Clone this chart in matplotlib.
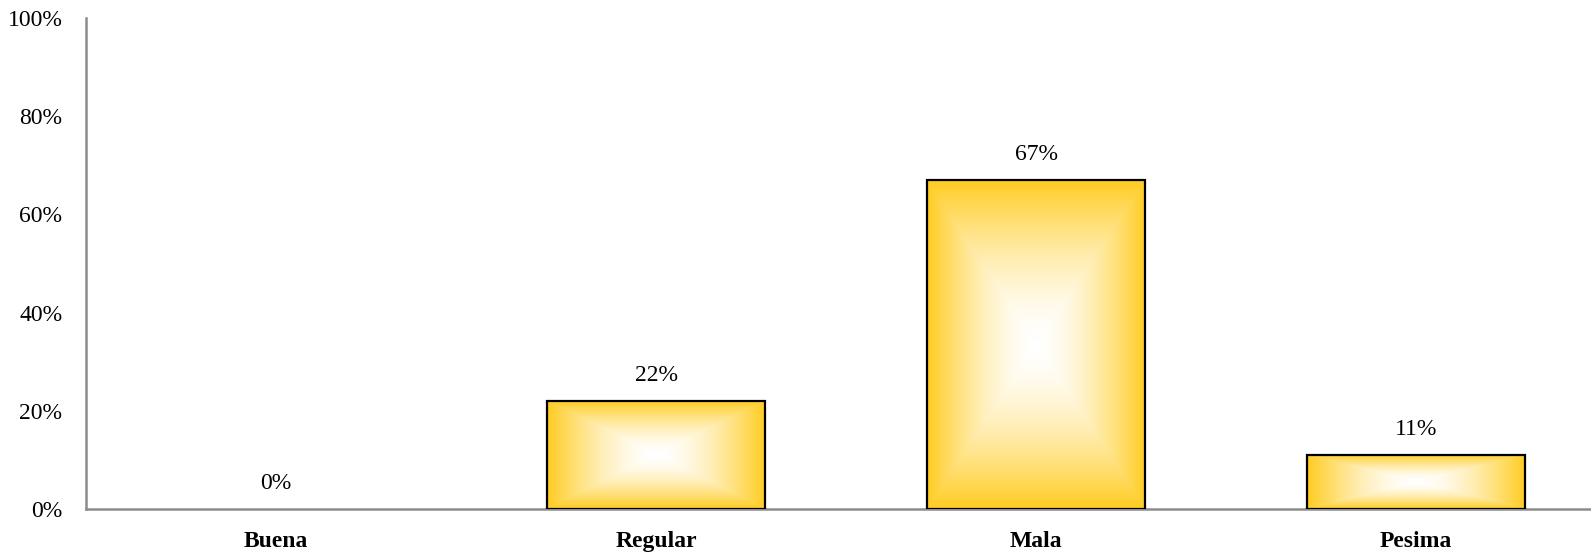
import matplotlib.pyplot as plt
import numpy as np
from matplotlib.colors import LinearSegmentedColormap

categories = ['Buena', 'Regular', 'Mala', 'Pesima']
values = [0, 22, 67, 11]
value_labels = ['0%', '22%', '67%', '11%']
ytick_values = [0, 20, 40, 60, 80, 100]
ytick_labels = ['0%', '20%', '40%', '60%', '80%', '100%']

plt.rcParams['font.family'] = ['Liberation Serif', 'DejaVu Serif']

fig = plt.figure(figsize=(15.91, 5.56), dpi=100)
# axes runs a bit past the right edge, like the original
ax = fig.add_axes([86 / 1591, 47 / 556, 1520 / 1591, 491 / 556])

gold = (1.0, 0.80, 0.13)
cmap = LinearSegmentedColormap.from_list('gold_center', ['white', gold])

x = np.arange(len(categories))
bars = ax.bar(x, values, width=0.575, facecolor='none', edgecolor='black',
              linewidth=1.6, zorder=3)

# rectangular "from centre" gradient inside each bar
n = 300
u = np.linspace(-1, 1, n)
uu, vv = np.meshgrid(u, u)
grad = np.maximum(np.abs(uu), np.abs(vv)) ** 1.6
for b in bars:
    if b.get_height() <= 0:
        b.set_edgecolor('none')
        continue
    x0, y0 = b.get_x(), b.get_y()
    w, h = b.get_width(), b.get_height()
    im = ax.imshow(grad, cmap=cmap, extent=[x0, x0 + w, y0, y0 + h],
                   aspect='auto', origin='lower', zorder=2, vmin=0, vmax=1,
                   interpolation='bilinear')
    im.set_clip_path(b)

for b, lab in zip(bars, value_labels):
    ax.annotate(lab, (b.get_x() + b.get_width() / 2, b.get_height()),
                xytext=(0, 11), textcoords='offset points',
                ha='center', va='bottom', fontsize=17)

ax.set_xlim(-0.5, len(categories) - 0.5)
ax.set_ylim(0, 100)
ax.set_xticks(x)
ax.set_xticklabels(categories, fontsize=17, fontweight='bold')
ax.set_yticks(ytick_values)
ax.set_yticklabels(ytick_labels, fontsize=17)
ax.tick_params(axis='both', length=0)
ax.tick_params(axis='x', pad=16)
ax.tick_params(axis='y', pad=17)

for s in ['top', 'right']:
    ax.spines[s].set_visible(False)
for s in ['left', 'bottom']:
    ax.spines[s].set_color('#8c8c8c')
    ax.spines[s].set_linewidth(1.8)

plt.savefig('out.png', dpi=100)
